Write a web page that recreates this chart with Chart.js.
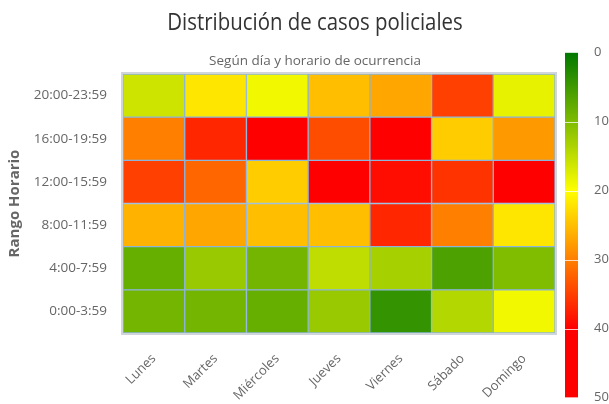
<!DOCTYPE html>
<html><head><meta charset="utf-8">
<script src="https://cdn.jsdelivr.net/npm/chart.js@4.4.1/dist/chart.umd.min.js"></script>
<style>
body{margin:0;background:#fff}
#wrap{position:relative;width:609px;height:404px;background:#fff}
canvas{position:absolute;top:0}
</style>
</head><body>
<div id="wrap">
<canvas id="main" width="609" height="404" style="left:0"></canvas>
<canvas id="scale" width="69" height="404" style="left:540px"></canvas>
</div>
<script>
// ---- data ----
const days = ['Lunes', 'Martes', 'Miércoles', 'Jueves', 'Viernes', 'Sábado', 'Domingo'];
const timeRanges = ['0:00-3:59', '4:00-7:59', '8:00-11:59', '12:00-15:59', '16:00-19:59', '20:00-23:59'];
const casos_00_04 = [9, 9, 8, 12, 4, 14, 19];
const casos_04_08 = [8, 12, 9, 15, 13, 6, 10];
const casos_08_12 = [26, 27, 25, 25, 37, 30, 22];
const casos_12_16 = [35, 32, 24, 42, 39, 36, 43];
const casos_16_20 = [30, 37, 41, 34, 45, 24, 28];
const casos_20_24 = [16, 22, 19, 25, 27, 35, 18];
const rowValues = [casos_00_04, casos_04_08, casos_08_12, casos_12_16, casos_16_20, casos_20_24];
const colorMin = 0;
const colorMax = 50;
const colorStopValues = [0, 20, 40, 50];
const colorStopColors = [[0, 120, 0], [255, 255, 0], [255, 0, 0], [255, 0, 0]];
const legendTickStep = 10;

const FONT = "'Open Sans', sans-serif";
const TITLE_SIZE = 24;
const TITLE_STRETCH = 0.85;
const titleLH = TITLE_SIZE * 1.2;
const titleTop = 8.5;

function rgb(c) { return 'rgb(' + c.map(Math.round).join(',') + ')'; }
function colorFor(v) {
  for (let i = 0; i < colorStopValues.length - 1; i++) {
    const a = colorStopValues[i], b = colorStopValues[i + 1];
    if (v <= b || i === colorStopValues.length - 2) {
      const t = Math.max(0, Math.min(1, (v - a) / (b - a)));
      const ca = colorStopColors[i], cb = colorStopColors[i + 1];
      return rgb(ca.map((x, k) => x + (cb[k] - x) * t));
    }
  }
}

const framePlugin = {
  id: 'frame',
  afterDatasetsDraw(chart) {
    const {ctx, chartArea: a} = chart;
    ctx.save();
    ctx.strokeStyle = '#d0d4db';
    ctx.lineWidth = 2;
    ctx.strokeRect(a.left - 1, a.top - 1, a.right - a.left + 2, a.bottom - a.top + 2);
    ctx.restore();
  }
};

// draws the title text (reserved by the Title plugin) in a condensed form
const condensedTitle = {
  id: 'condensedTitle',
  afterDraw(chart) {
    const tb = chart.titleBlock;
    if (!tb) return;
    const ctx = chart.ctx;
    ctx.save();
    ctx.font = 'normal ' + TITLE_SIZE + 'px ' + FONT;
    ctx.fillStyle = '#333';
    ctx.textAlign = 'center';
    ctx.textBaseline = 'middle';
    ctx.translate((tb.left + tb.right) / 2, tb.top + titleTop + titleLH / 2);
    ctx.scale(TITLE_STRETCH, 1);
    ctx.fillText(chart.options.plugins.title.text, 0, 0);
    ctx.restore();
  }
};

new Chart(document.getElementById('main'), {
  type: 'bar',
  data: {
    labels: days,
    datasets: timeRanges.map((t, i) => ({
      label: t,
      data: days.map(() => [i, i + 1]),
      backgroundColor: rowValues[i].map(colorFor),
      borderColor: '#8db4da',
      borderWidth: 1,
      borderSkipped: false,
      grouped: false,
      barPercentage: 1,
      categoryPercentage: 1
    }))
  },
  options: {
    responsive: false,
    animation: false,
    layout: {padding: {left: 21, right: 0, top: 0, bottom: 0}},
    plugins: {
      legend: {display: false},
      tooltip: {enabled: false},
      title: {
        display: true, text: 'Distribución de casos policiales', color: 'rgba(0,0,0,0)',
        font: {family: FONT, size: TITLE_SIZE, weight: 'normal'},
        padding: {top: titleTop, bottom: 0}
      },
      subtitle: {
        display: true, text: 'Según día y horario de ocurrencia', color: '#666',
        font: {family: FONT, size: 13.5, weight: 'normal'},
        padding: {top: 52.8 - titleTop - titleLH, bottom: 5}
      }
    },
    scales: {
      x: {
        type: 'category',
        grid: {display: false},
        border: {display: false},
        ticks: {color: '#666', font: {family: FONT, size: 13}, minRotation: 45, maxRotation: 45, padding: 10, autoSkip: false},
        afterFit(s) { s.height = 71; }
      },
      y: {
        type: 'linear', min: 0, max: timeRanges.length,
        grid: {display: false},
        border: {display: false},
        afterBuildTicks(s) { s.ticks = timeRanges.map((_, i) => ({value: i + 0.5})); },
        ticks: {color: '#666', font: {family: FONT, size: 13.5}, padding: 8, callback: v => timeRanges[Math.floor(v)]},
        title: {display: true, text: 'Rango Horario', color: '#666', font: {family: FONT, size: 15, weight: 'bold'}, padding: {top: -15, bottom: 0}},
        afterFit(s) { s.width = 102; }
      },
      yRight: {
        type: 'linear', position: 'right',
        grid: {display: false}, border: {display: false}, ticks: {display: false},
        afterFit(s) { s.width = 54; }
      }
    }
  },
  plugins: [framePlugin, condensedTitle]
});

const separatorPlugin = {
  id: 'separators',
  afterDatasetsDraw(chart) {
    const {ctx, chartArea: a, scales: {y}} = chart;
    ctx.save();
    ctx.strokeStyle = 'rgba(255,255,255,0.75)';
    ctx.lineWidth = 1;
    for (let v = colorMin + legendTickStep; v < colorMax; v += legendTickStep) {
      const py = Math.round(y.getPixelForValue(v)) + 0.5;
      ctx.beginPath(); ctx.moveTo(a.left, py); ctx.lineTo(a.right, py); ctx.stroke();
    }
    ctx.restore();
  }
};

const scaleChart = new Chart(document.getElementById('scale'), {
  type: 'bar',
  data: {
    labels: [''],
    datasets: [{
      data: [[colorMin, colorMax]],
      backgroundColor(c) {
        const ys = c.chart.scales.y;
        if (!ys) return 'rgba(0,0,0,0)';
        const p0 = ys.getPixelForValue(colorMin), p1 = ys.getPixelForValue(colorMax);
        if (!isFinite(p0) || !isFinite(p1)) return 'rgba(0,0,0,0)';
        const g = c.chart.ctx.createLinearGradient(0, p0, 0, p1);
        colorStopValues.forEach((v, i) => g.addColorStop((v - colorMin) / (colorMax - colorMin), rgb(colorStopColors[i])));
        return g;
      },
      borderWidth: 0,
      barPercentage: 1,
      categoryPercentage: 1
    }]
  },
  options: {
    responsive: false,
    animation: false,
    layout: {padding: {left: 25, right: 0, top: 52.7, bottom: 6.5}},
    plugins: {legend: {display: false}, tooltip: {enabled: false}},
    scales: {
      x: {display: false},
      y: {
        position: 'right', reverse: true, min: colorMin, max: colorMax,
        grid: {display: false}, border: {display: false},
        ticks: {stepSize: legendTickStep, color: '#666', font: {family: FONT, size: 13}, padding: 8},
        afterFit(s) { s.width = 31; s.paddingTop = 0; s.paddingBottom = 0; }
      }
    }
  },
  plugins: [separatorPlugin]
});
scaleChart.update();
</script>
</body></html>
